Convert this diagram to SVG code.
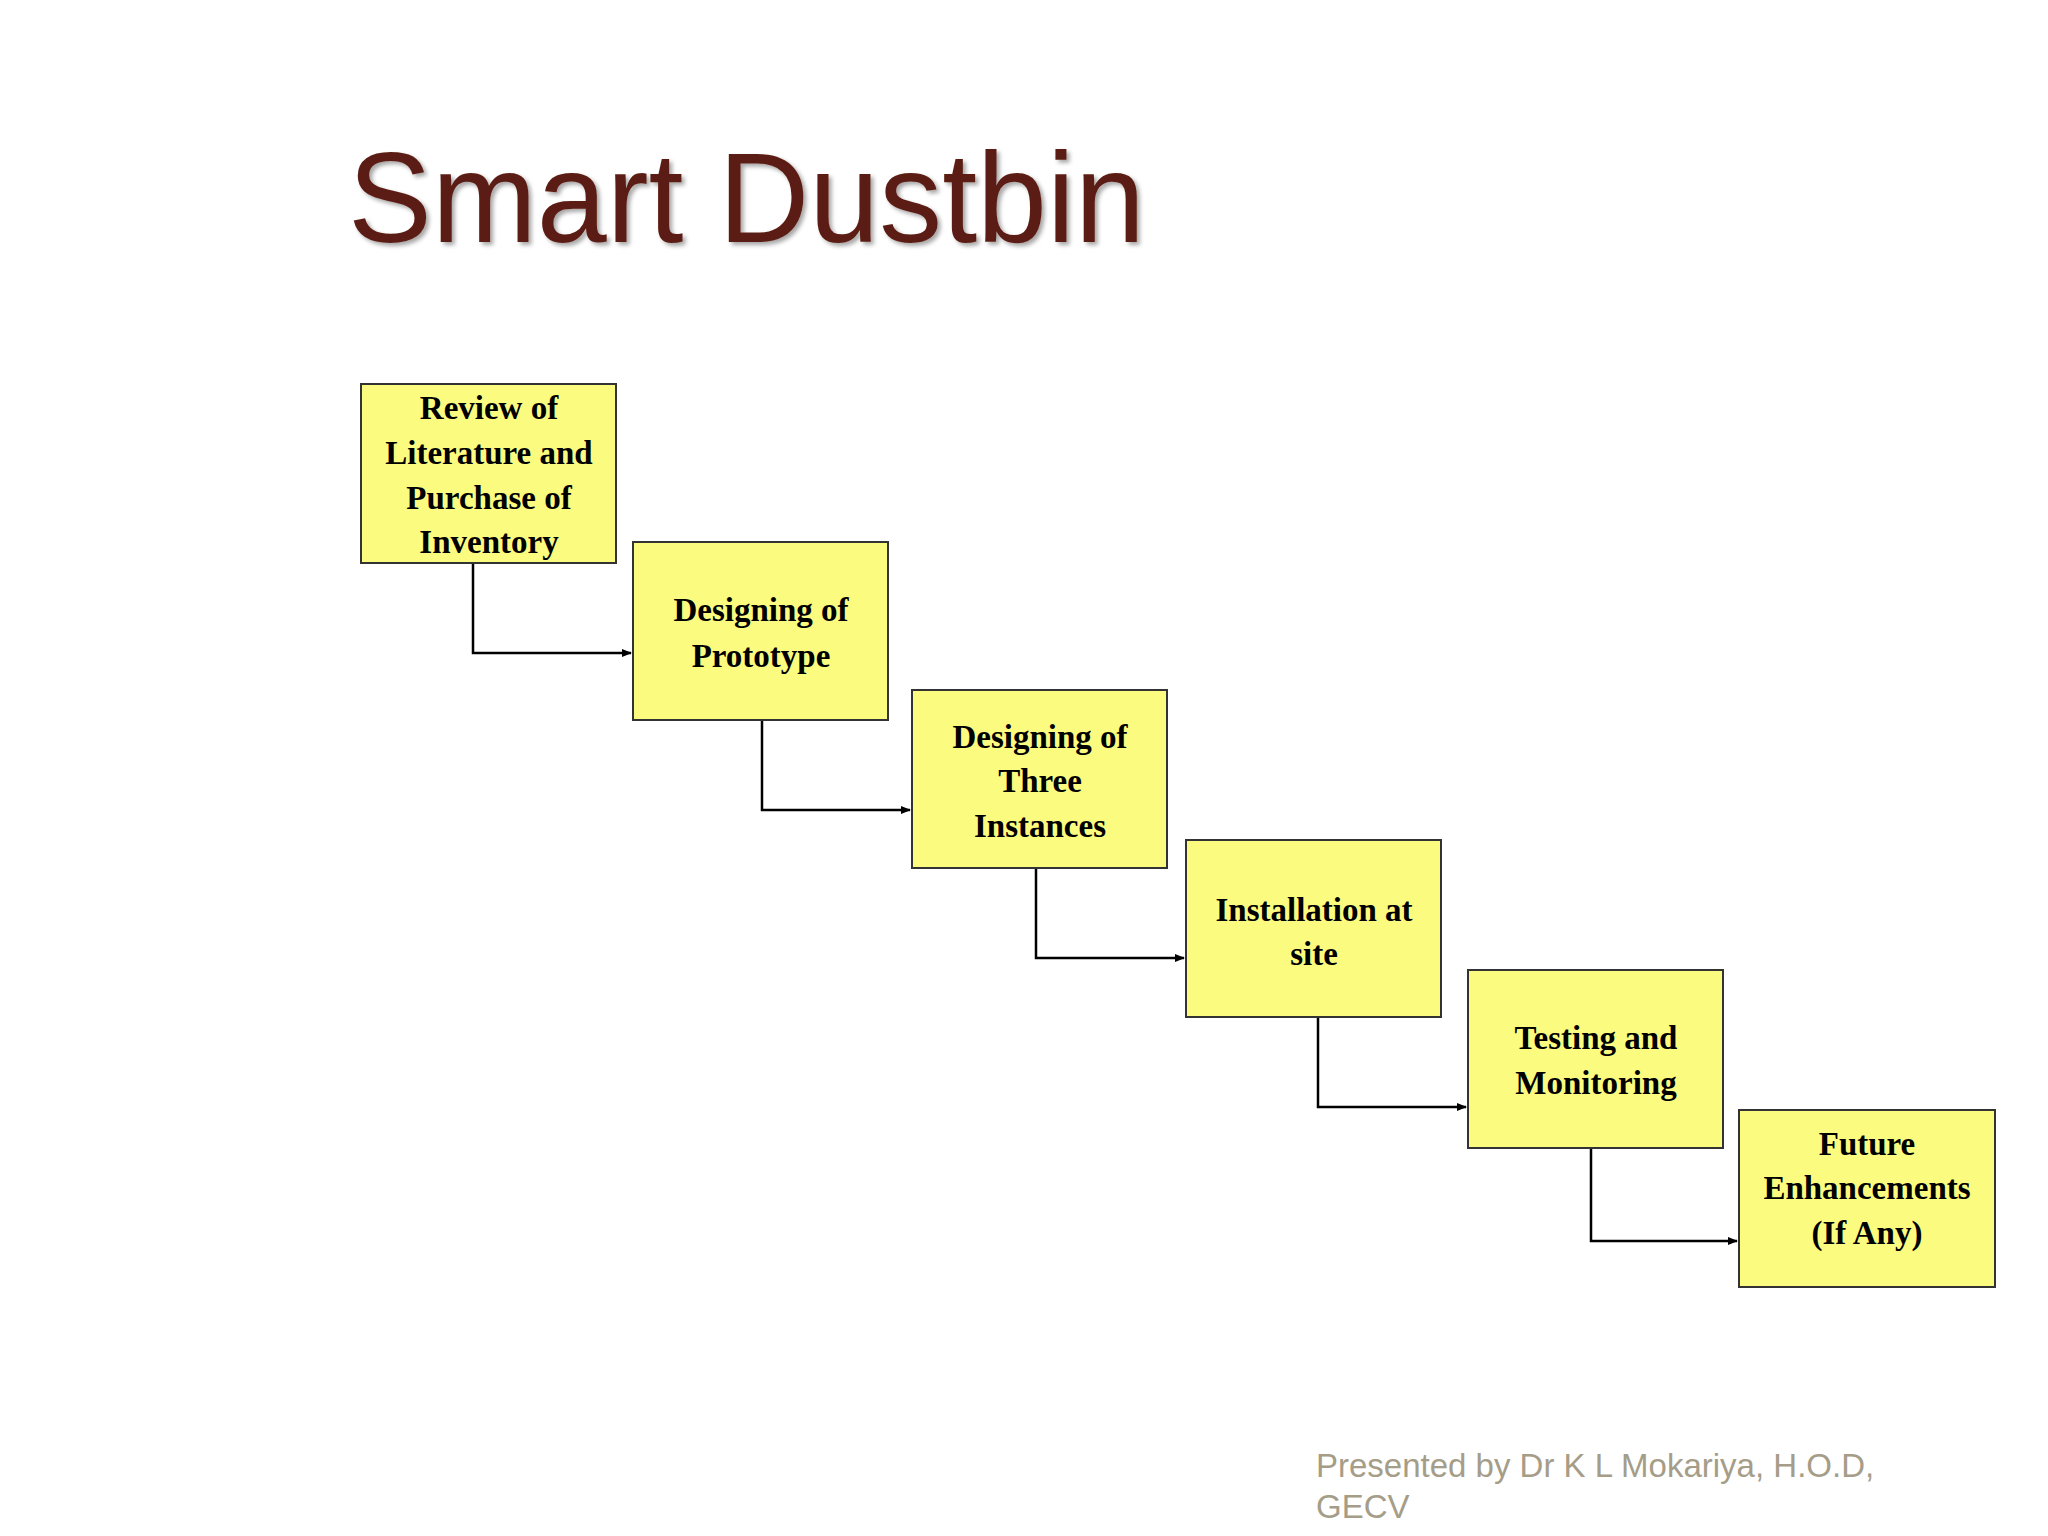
<svg xmlns="http://www.w3.org/2000/svg" width="2048" height="1536" viewBox="0 0 2048 1536">
<style>
.box{fill:#fbfb80;stroke:#333;stroke-width:2}
.t{font-family:"Liberation Serif",serif;font-weight:bold;font-size:33px;fill:#000;text-anchor:middle}
.c{fill:none;stroke:#000;stroke-width:2.5}
</style>
<defs>
<marker id="a" markerWidth="10" markerHeight="10" refX="9" refY="5" orient="auto" markerUnits="userSpaceOnUse"><path d="M0,1 L10,5 L0,9 Z" fill="#000"/></marker>
<filter id="sh"><feDropShadow dx="3" dy="3" stdDeviation="2" flood-color="#000" flood-opacity="0.35"/></filter>
</defs>
<rect width="2048" height="1536" fill="#fff"/>
<text x="348" y="242" font-family="Liberation Sans,sans-serif" font-size="128" fill="#5c1f14" textLength="797" lengthAdjust="spacingAndGlyphs" filter="url(#sh)">Smart Dustbin</text>
<g id="connectors">
<path class="c" d="M473,563 V653 H631" marker-end="url(#a)"/>
<path class="c" d="M762,720 V810 H910" marker-end="url(#a)"/>
<path class="c" d="M1036,868 V958 H1184" marker-end="url(#a)"/>
<path class="c" d="M1318,1017 V1107 H1466" marker-end="url(#a)"/>
<path class="c" d="M1591,1148 V1241 H1737" marker-end="url(#a)"/>
</g>
<g id="n1"><rect class="box" x="361" y="384" width="255" height="179"/>
<text class="t" x="489" y="419">Review of</text><text class="t" x="489" y="464">Literature and</text><text class="t" x="489" y="509">Purchase of</text><text class="t" x="489" y="553">Inventory</text></g>
<g id="n2"><rect class="box" x="633" y="542" width="255" height="178"/>
<text class="t" x="761" y="621">Designing of</text><text class="t" x="761" y="667">Prototype</text></g>
<g id="n3"><rect class="box" x="912" y="690" width="255" height="178"/>
<text class="t" x="1040" y="748">Designing of</text><text class="t" x="1040" y="792">Three</text><text class="t" x="1040" y="837">Instances</text></g>
<g id="n4"><rect class="box" x="1186" y="840" width="255" height="177"/>
<text class="t" x="1314" y="921">Installation at</text><text class="t" x="1314" y="965">site</text></g>
<g id="n5"><rect class="box" x="1468" y="970" width="255" height="178"/>
<text class="t" x="1596" y="1049">Testing and</text><text class="t" x="1596" y="1094">Monitoring</text></g>
<g id="n6"><rect class="box" x="1739" y="1110" width="256" height="177"/>
<text class="t" x="1867" y="1155">Future</text><text class="t" x="1867" y="1199">Enhancements</text><text class="t" x="1867" y="1244">(If Any)</text></g>
<text x="1316" y="1477" font-family="Liberation Sans,sans-serif" font-size="33" fill="#a59d88">Presented by Dr K L Mokariya, H.O.D,</text>
<text x="1316" y="1518" font-family="Liberation Sans,sans-serif" font-size="33" fill="#a59d88">GECV</text>
</svg>
